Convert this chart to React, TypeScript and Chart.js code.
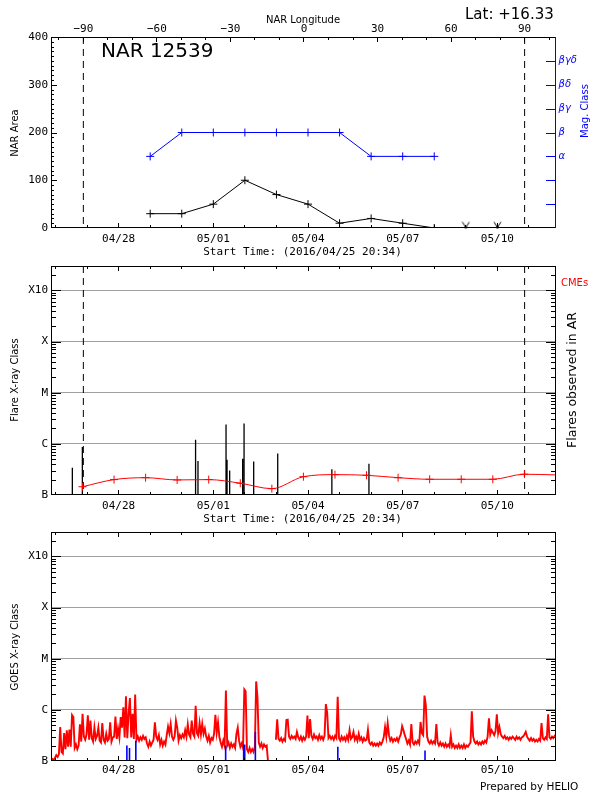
import React, { useEffect, useRef } from "react";
import { Chart, registerables } from "chart.js";

Chart.register(...registerables);

// ---------------- data ----------------
const YEAR = 2016;
const START = "04/25 20:34";
const SPAN_DAYS = 16;
const startLabel = "Start Time: (2016/04/25 20:34)";
const narNumber = "12539";
const latitude = "+16.33";

const dateTickLabels = ["04/28", "05/01", "05/04", "05/07", "05/10"];
const lonTicks = [-90, -60, -30, 0, 30, 60, 90];
const lonRange = [-103.2, 102.8];
const limbLon = [-90, 90];

const areaTicks = [0, 100, 200, 300, 400];
const narDates = ["04/29", "04/30", "05/01", "05/02", "05/03", "05/04", "05/05", "05/06", "05/07", "05/08"];
const narArea = [30, 30, 50, 100, 70, 50, 10, 20, 10, 0];
const narNoDataDates = ["05/09", "05/10"];
const magClassLabels = ["", "", "", "α", "β", "βγ", "βδ", "βγδ", ""];
const magClass = ["α", "β", "β", "β", "β", "β", "β", "α", "α", "α"];

const classTickLabels = ["B", "C", "M", "X", "X10"];
const classTop = "X30";

const flareTimes = [
  "04/26 12:48", "04/26 20:25", "04/30 10:30", "04/30 12:20", "05/01 09:40", "05/01 10:26",
  "05/01 12:25", "05/01 22:19", "05/01 23:22", "05/02 06:41", "05/03 00:58", "05/04 18:08", "05/05 22:20",
];
const flareClasses = ["B3.4", "B8.7", "C1.2", "B4.6", "C2.4", "B4.9", "B3.0", "B5.1", "C2.5", "B4.5", "B6.5", "B3.2", "B4.1"];

const bgTimes = [
  "04/26 20:30", "04/27 20:30", "04/28 20:30", "04/29 20:30", "04/30 20:30", "05/01 20:30", "05/02 20:30",
  "05/03 20:30", "05/04 20:30", "05/05 20:30", "05/06 20:30", "05/07 20:30", "05/08 20:30", "05/09 20:30",
  "05/10 20:30", "05/11 20:34",
];
// background level in units of B1.0 (1e-7 W m^-2)
const bgLevelB = [1.45, 2.0, 2.18, 1.97, 2.0, 1.7, 1.33, 2.28, 2.5, 2.43, 2.18, 2.03, 2.03, 2.03, 2.55, 2.47];

// GOES 1-8 A flux, hourly from the start time, in units of B1.0 (1e-7 W m^-2)
const goesStepHours = 1;
const goesFluxB: (number | null)[] = [
  1.05, 1.1, 1.05, 1.15, 1.3, 1.2, 1.35, 4.6, 1.5, 1.4, 3.5, 1.7, 4.0, 1.9, 4.1, 1.9, 7.9, 7.2, 1.8, 2.1, 1.7, 2.0, 5.2, 2.4,
  8.4, 3.0, 2.6, 3.3, 7.8, 2.6, 6.2, 2.8, 2.4, 4.5, 2.7, 3.1, 4.5, 2.5, 2.3, 5.5, 2.6, 2.3, 3.4, 2.5, 2.7, 5.7, 2.4, 2.9,
  3.0, 7.4, 2.7, 4.3, 2.9, 7.2, 4.5, 11.2, 2.9, 18.5, 2.8, 8.3, 17.0, 2.9, 8.4, 2.7, 20.0, 2.6, 3.0, 2.5, 2.9, 2.6, 3.1, 2.7,
  2.9, 2.2, 1.9, 2.4, 2.0, 2.3, 2.6, 5.7, 3.0, 2.6, 3.2, 2.1, 2.6, 2.0, 2.4, 2.1, 3.2, 4.7, 3.5, 5.3, 3.0, 2.6, 3.0, 6.2,
  4.5, 2.5, 3.2, 2.8, 3.3, 2.9, 4.0, 3.0, 5.2, 3.3, 2.9, 6.2, 3.4, 3.0, 12.0, 3.5, 3.1, 5.5, 3.3, 5.3, 3.4, 4.3, 3.0, 2.5,
  3.1, 2.3, 2.8, 2.6, 3.4, 8.0, 3.6, 5.7, 3.0, 2.3, 1.9, 2.5, 2.0, 24.0, 2.0, 2.3, 1.8, 2.2, 1.9, 2.1, 1.8, 3.4, 4.5, 2.5,
  1.9, 2.2, 1.8, 25.0, 23.0, 1.7, 1.5, 1.8, 1.5, 1.7, 1.5, 1.9, 36.0, 17.5, 2.3, 1.9, 2.2, 1.8, 2.1, 1.9, 2.0, 1.0, null, null,
  null, null, null, 2.6, 6.5, 2.7, 2.5, 2.8, 2.4, 2.7, 2.5, 6.3, 6.4, 3.0, 2.7, 3.1, 2.8, 3.0, 2.7, 3.7, 2.9, 2.6, 3.0, 2.5,
  2.9, 2.6, 3.0, 7.7, 2.8, 6.6, 3.1, 2.7, 3.3, 2.8, 3.0, 2.6, 3.2, 2.7, 3.0, 2.6, 3.1, 13.0, 8.8, 2.8, 3.1, 2.7, 3.0, 2.6,
  3.1, 2.8, 18.0, 2.8, 2.5, 3.0, 2.6, 2.9, 2.5, 3.1, 2.6, 4.0, 2.7, 2.9, 3.7, 2.6, 3.0, 2.5, 3.4, 2.6, 2.9, 2.4, 2.8, 2.5,
  2.6, 4.1, 2.3, 2.1, 2.3, 2.0, 2.2, 2.0, 2.2, 2.0, 2.3, 2.1, 2.4, 2.9, 4.6, 3.0, 5.5, 3.2, 2.5, 2.8, 2.4, 2.7, 2.5, 2.8,
  2.4, 2.9, 3.3, 4.8, 4.0, 3.2, 2.7, 2.2, 2.5, 2.1, 5.3, 2.3, 2.1, 2.4, 2.2, 2.5, 2.2, 5.8, 3.5, 3.2, 19.0, 12.5, 3.0, 2.4,
  2.2, 2.5, 2.2, 2.4, 2.2, 5.3, 2.3, 2.0, 2.3, 2.0, 2.2, 1.9, 2.2, 1.9, 2.1, 1.9, 3.2, 1.9, 2.1, 1.8, 2.0, 1.8, 2.1, 1.8,
  2.0, 1.8, 2.1, 1.8, 2.0, 1.9, 2.1, 2.3, 9.4, 3.0, 2.4, 2.2, 2.4, 2.1, 2.3, 2.1, 2.4, 2.2, 2.5, 2.3, 3.0, 6.8, 3.3, 4.0,
  3.6, 3.2, 3.8, 8.2, 3.5, 4.6, 3.3, 3.0, 2.8, 3.1, 2.7, 2.9, 2.6, 2.9, 2.7, 3.0, 2.8, 2.6, 3.0, 2.7, 2.9, 2.6, 2.9, 3.0,
  3.3, 3.7, 3.0, 2.7, 2.5, 2.8, 2.5, 2.7, 2.4, 2.6, 2.4, 2.7, 2.5, 5.5, 2.8, 2.6, 2.9, 2.7, 8.2, 2.9, 2.7, 3.0, 2.8, 3.1,
  2.9,
];

const eventTimes = ["04/28 06:16", "04/28 08:16", "04/28 13:04", "05/01 09:22", "05/01 23:04", "05/01 23:52", "05/02 07:58", "05/04 22:40", "05/07 16:58"];
const eventClasses = ["B2.0", "B1.8", "B2.5", "B2.0", "B2.1", "B2.1", "B3.7", "B1.9", "B1.6"];

// ---------------- helpers ----------------
const BLUE = "#0000ff";
const RED = "#ff0000";
const GRID = "#a0a0a0";
const FONT_MONO = '"DejaVu Sans Mono", monospace';
const FONT_SANS = '"DejaVu Sans", sans-serif';

function ms(s: string): number {
  const [d, t] = s.split(" ");
  const [mo, da] = d.split("/").map(Number);
  const [h, mi] = (t || "00:00").split(":").map(Number);
  return Date.UTC(YEAR, mo - 1, da, h, mi);
}
const t0 = ms(START);
const dayOf = (s: string) => (ms(s) - t0) / 86400000;
const CLASS_BASE: Record<string, number> = { A: 1e-8, B: 1e-7, C: 1e-6, M: 1e-5, X: 1e-4 };
const classFlux = (c: string) => CLASS_BASE[c[0]] * (c.length > 1 ? parseFloat(c.slice(1)) : 1);
const LOG_MIN = classFlux("B");
const LOG_MAX = classFlux(classTop);

const dateMajor = dateTickLabels.map(dayOf);
function midnights(): number[] {
  const out: number[] = [];
  const sd = new Date(t0);
  for (let d = 0; d <= SPAN_DAYS + 1; d++) {
    const v = (Date.UTC(YEAR, sd.getUTCMonth(), sd.getUTCDate() + d) - t0) / 86400000;
    if (v >= 0 && v <= SPAN_DAYS) out.push(v);
  }
  return out;
}
const dateMinor = midnights().filter((v) => !dateMajor.some((m) => Math.abs(m - v) < 1e-6));
const lonMinor: number[] = [];
for (let v = -100; v <= 100; v += 10) if (v % 30 !== 0) lonMinor.push(v);
const areaMinor: number[] = [];
for (let v = 0; v <= 400; v += 10) if (v % 100 !== 0) areaMinor.push(v);
const logMajor = classTickLabels.map(classFlux);
const logMinor: number[] = [];
for (let e = -8; e <= -2; e++)
  for (let m = 2; m <= 9; m++) {
    const v = m * Math.pow(10, e);
    if (v > LOG_MIN * 1.0001 && v < LOG_MAX * 1.0001) logMinor.push(v);
  }

const fmtLon = (v: number) => (v < 0 ? "\u2212" + Math.abs(v) : String(v));

function vertBars(xs: number[], tops: number[], base: number) {
  const out: any[] = [];
  xs.forEach((x, i) => {
    out.push({ x, y: base }, { x, y: tops[i] }, { x, y: null });
  });
  return out;
}

type TickSpec = { scale: string; side: "left" | "right" | "top" | "bottom"; values: number[]; len: number; color?: string };
type Txt = { text: string; x: number; y: number; size: number; family?: string; color?: string; align?: CanvasTextAlign; rotate?: boolean; style?: string };
type Frame = { left: string; right: string; top: string; bottom: string };

function overlayPlugin(panelTop: number, ticks: TickSpec[], frame: Frame, texts: Txt[]) {
  return {
    id: "idlOverlay",
    afterDraw(chart: any) {
      const ctx: CanvasRenderingContext2D = chart.ctx;
      const a = chart.chartArea;
      const L = Math.round(a.left), R = Math.round(a.right), T = Math.round(a.top), B = Math.round(a.bottom);
      ctx.save();
      ctx.setLineDash([]);
      ctx.globalAlpha = 1;
      for (const t of ticks) {
        const s = chart.scales[t.scale];
        if (!s) continue;
        ctx.fillStyle = t.color || "#000000";
        for (const v of t.values) {
          const raw = s.getPixelForValue(v);
          if (!isFinite(raw)) continue;
          if (t.side === "left" || t.side === "right") {
            if (raw < T - 1 || raw > B + 1) continue;
            const p = Math.min(Math.max(Math.round(raw), T), B - 1);
            if (t.side === "left") ctx.fillRect(L, p, t.len, 1);
            else ctx.fillRect(R - t.len, p, t.len, 1);
          } else {
            if (raw < L - 1 || raw > R + 1) continue;
            const p = Math.min(Math.max(Math.floor(raw), L), R - 1);
            if (t.side === "bottom") ctx.fillRect(p, B - t.len, 1, t.len);
            else ctx.fillRect(p, T, 1, t.len);
          }
        }
      }
      ctx.fillStyle = frame.top;
      ctx.fillRect(L, T, R - L, 1);
      ctx.fillStyle = frame.bottom;
      ctx.fillRect(L, B - 1, R - L, 1);
      ctx.fillStyle = frame.left;
      ctx.fillRect(L, T, 1, B - T);
      ctx.fillStyle = frame.right;
      ctx.fillRect(R - 1, T, 1, B - T);
      for (const t of texts) {
        ctx.save();
        ctx.font = `${t.style ? t.style + " " : ""}${t.size}px ${t.family || FONT_SANS}`;
        ctx.fillStyle = t.color || "#000";
        ctx.textAlign = t.align || "center";
        ctx.textBaseline = "middle";
        ctx.translate(t.x, t.y - panelTop);
        if (t.rotate) ctx.rotate(-Math.PI / 2);
        ctx.fillText(t.text, 0, 0);
        ctx.restore();
      }
      ctx.restore();
    },
  };
}

function zeroPad(s: any) {
  s.paddingLeft = 0;
  s.paddingRight = 0;
  s.paddingTop = 0;
  s.paddingBottom = 0;
}

function dateScale(height: number, pad: number) {
  return {
    type: "linear",
    position: "bottom",
    min: 0,
    max: SPAN_DAYS,
    bounds: "data",
    afterBuildTicks: (s: any) => {
      s.ticks = dateMajor.map((v) => ({ value: v }));
    },
    afterFit: (s: any) => {
      s.height = height;
      zeroPad(s);
    },
    grid: { display: false, drawTicks: false },
    border: { display: false },
    ticks: {
      autoSkip: false,
      maxRotation: 0,
      minRotation: 0,
      padding: pad,
      color: "#000",
      font: { family: FONT_MONO, size: 11 },
      callback: (_v: any, i: number) => dateTickLabels[i],
    },
  };
}

function classScale() {
  return {
    type: "logarithmic",
    position: "left",
    min: LOG_MIN,
    max: LOG_MAX,
    bounds: "data",
    afterBuildTicks: (s: any) => {
      s.ticks = logMajor.map((v) => ({ value: v }));
    },
    afterFit: (s: any) => {
      s.width = 51;
      zeroPad(s);
    },
    grid: {
      display: true,
      drawTicks: false,
      lineWidth: 1,
      color: (c: any) => (c.tick && c.tick.value > LOG_MIN * 1.5 ? GRID : "rgba(0,0,0,0)"),
    },
    border: { display: false },
    ticks: {
      autoSkip: false,
      padding: 3,
      color: "#000",
      font: { family: FONT_MONO, size: 11 },
      callback: (_v: any, i: number) => classTickLabels[i],
    },
  };
}

const hiddenLon = {
  type: "linear",
  position: "top",
  display: false,
  min: lonRange[0],
  max: lonRange[1],
  bounds: "data",
};

function limbData(yTop: number, yBottom: number) {
  const out: any[] = [];
  limbLon.forEach((l) => out.push({ x: l, y: yTop }, { x: l, y: yBottom }, { x: l, y: null }));
  return out;
}

const baseOptions = (padding: any) => ({
  responsive: false,
  maintainAspectRatio: false,
  animation: false,
  devicePixelRatio: 1,
  events: [],
  layout: { padding },
  plugins: { legend: { display: false }, tooltip: { enabled: false }, title: { display: false } },
});

function makeVMarker() {
  const c = document.createElement("canvas");
  c.width = 9;
  c.height = 15;
  const g = c.getContext("2d")!;
  g.strokeStyle = "#000";
  g.lineWidth = 1;
  g.beginPath();
  g.moveTo(1, 1.5);
  g.lineTo(4.5, 7);
  g.lineTo(8, 1.5);
  g.stroke();
  g.fillStyle = "#000";
  g.fillRect(3.5, 6, 2, 2);
  return c;
}

// ---------------- panels ----------------
const P1 = { top: 0, height: 258 };
const P2 = { top: 258, height: 266 };
const P3 = { top: 524, height: 276 };

function buildTop(canvas: HTMLCanvasElement) {
  const xs = narDates.map(dayOf);
  const areaMax = areaTicks[areaTicks.length - 1];
  const vImg = makeVMarker();
  const ticks: TickSpec[] = [
    { scale: "y", side: "left", values: areaTicks, len: 6 },
    { scale: "y", side: "left", values: areaMinor, len: 3 },
    { scale: "mag", side: "right", values: [1, 2, 3, 4, 5, 6, 7], len: 10, color: BLUE },
    { scale: "x", side: "bottom", values: dateMajor, len: 5 },
    { scale: "x", side: "bottom", values: dateMinor, len: 3 },
    { scale: "lon", side: "top", values: lonTicks, len: 5 },
    { scale: "lon", side: "top", values: lonMinor, len: 3 },
  ];
  const texts: Txt[] = [
    { text: "NAR Longitude", x: 303, y: 20, size: 10 },
    { text: "Lat: " + latitude, x: 465, y: 15.5, size: 15, align: "left" },
    { text: "NAR " + narNumber, x: 101, y: 52, size: 20, align: "left" },
    { text: "NAR Area", x: 15.5, y: 133, size: 10, rotate: true },
    { text: "Mag. Class", x: 585.5, y: 111, size: 10, rotate: true, color: BLUE },
    { text: startLabel, x: 302.5, y: 252.5, size: 11, family: FONT_MONO },
  ];
  return new Chart(canvas, {
    type: "line",
    data: {
      datasets: [
        {
          label: "Mag. Class",
          yAxisID: "mag",
          xAxisID: "x",
          data: xs.map((x, i) => ({ x, y: magClassLabels.indexOf(magClass[i]) })),
          borderColor: BLUE,
          borderWidth: 1,
          pointStyle: "cross",
          pointRadius: 4,
          pointBorderColor: BLUE,
          pointBorderWidth: 1,
        },
        {
          label: "NAR Area",
          yAxisID: "y",
          xAxisID: "x",
          data: xs.map((x, i) => ({ x, y: narArea[i] })),
          borderColor: "#000",
          borderWidth: 1,
          pointStyle: "cross",
          pointRadius: 4,
          pointBorderColor: "#000",
          pointBorderWidth: 1,
        },
        {
          label: "no data",
          yAxisID: "y",
          xAxisID: "x",
          data: narNoDataDates.map((d) => ({ x: dayOf(d), y: 0 })),
          showLine: false,
          pointStyle: vImg,
          pointRadius: 5,
          clip: false,
        },
        {
          label: "limb",
          yAxisID: "y",
          xAxisID: "lon",
          data: limbData(areaMax, 0),
          borderColor: "#000",
          borderWidth: 1,
          borderDash: [7, 5],
          pointRadius: 0,
        },
      ],
    } as any,
    options: {
      ...baseOptions({ left: 0, right: 0, top: 0, bottom: 0 }),
      scales: {
        x: dateScale(30, 5),
        lon: {
          type: "linear",
          position: "top",
          min: lonRange[0],
          max: lonRange[1],
          bounds: "data",
          afterBuildTicks: (s: any) => {
            s.ticks = lonTicks.map((v) => ({ value: v }));
          },
          afterFit: (s: any) => {
            s.height = 37;
            zeroPad(s);
          },
          grid: { display: false, drawTicks: false },
          border: { display: false },
          ticks: {
            autoSkip: false,
            maxRotation: 0,
            padding: 1,
            color: "#000",
            font: { family: FONT_MONO, size: 11 },
            callback: (_v: any, i: number) => fmtLon(lonTicks[i]),
          },
        },
        y: {
          type: "linear",
          position: "left",
          min: 0,
          max: areaMax,
          bounds: "data",
          afterBuildTicks: (s: any) => {
            s.ticks = areaTicks.map((v) => ({ value: v }));
          },
          afterFit: (s: any) => {
            s.width = 51;
            zeroPad(s);
          },
          grid: { display: false, drawTicks: false },
          border: { display: false },
          ticks: {
            autoSkip: false,
            padding: 3,
            color: "#000",
            font: { family: FONT_MONO, size: 11 },
            callback: (_v: any, i: number) => String(areaTicks[i]),
          },
        },
        mag: {
          type: "linear",
          position: "right",
          min: 0,
          max: magClassLabels.length - 1,
          bounds: "data",
          afterBuildTicks: (s: any) => {
            s.ticks = magClassLabels.map((l, i) => ({ value: i, l })).filter((t) => t.l !== "").map((t) => ({ value: t.value }));
          },
          afterFit: (s: any) => {
            s.width = 44;
            zeroPad(s);
          },
          grid: { display: false, drawTicks: false },
          border: { display: false },
          ticks: {
            autoSkip: false,
            padding: 2.5,
            color: BLUE,
            font: { family: FONT_SANS, size: 10, style: "italic" },
            callback: (v: any) => magClassLabels[Math.round(v)],
          },
        },
      },
    } as any,
    plugins: [overlayPlugin(P1.top, ticks, { left: "#000", right: BLUE, top: "#000", bottom: "#000" }, texts)],
  });
}

function logTicks(): TickSpec[] {
  return [
    { scale: "y", side: "left", values: logMajor, len: 10 },
    { scale: "y", side: "left", values: logMinor, len: 5 },
    { scale: "y", side: "right", values: logMajor, len: 10 },
    { scale: "y", side: "right", values: logMinor, len: 5 },
    { scale: "x", side: "bottom", values: dateMajor, len: 5 },
    { scale: "x", side: "bottom", values: dateMinor, len: 3 },
    { scale: "x", side: "top", values: dateMajor, len: 5 },
    { scale: "x", side: "top", values: dateMinor, len: 3 },
  ];
}

const blackFrame: Frame = { left: "#000", right: "#000", top: "#000", bottom: "#000" };

function buildFlares(canvas: HTMLCanvasElement) {
  const texts: Txt[] = [
    { text: "Flare X-ray Class", x: 15.5, y: 380, size: 10, rotate: true },
    { text: "Flares observed in AR", x: 572.5, y: 380, size: 12.5, rotate: true },
    { text: "CMEs", x: 561, y: 283, size: 10, align: "left", color: RED },
    { text: startLabel, x: 302.5, y: 519.5, size: 11, family: FONT_MONO },
  ];
  return new Chart(canvas, {
    type: "line",
    data: {
      datasets: [
        {
          label: "background",
          yAxisID: "y",
          xAxisID: "x",
          data: bgTimes.map((t, i) => ({ x: dayOf(t), y: bgLevelB[i] * LOG_MIN })),
          borderColor: RED,
          borderWidth: 1,
          cubicInterpolationMode: "monotone",
          pointStyle: "cross",
          pointRadius: bgTimes.map((_, i) => (i === bgTimes.length - 1 ? 0 : 4)),
          pointBorderColor: RED,
          pointBorderWidth: 1,
        },
        {
          label: "flares",
          yAxisID: "y",
          xAxisID: "x",
          data: vertBars(flareTimes.map(dayOf), flareClasses.map(classFlux), LOG_MIN),
          borderColor: "#000",
          borderWidth: 1.3,
          pointRadius: 0,
        },
        {
          label: "limb",
          yAxisID: "y",
          xAxisID: "lon",
          data: limbData(LOG_MAX, LOG_MIN),
          borderColor: "#000",
          borderWidth: 1,
          borderDash: [7, 5],
          pointRadius: 0,
        },
      ],
    } as any,
    options: {
      ...baseOptions({ left: 0, right: 44, top: 8, bottom: 0 }),
      scales: {
        x: dateScale(29, 5),
        lon: hiddenLon,
        y: classScale(),
      },
    } as any,
    plugins: [overlayPlugin(P2.top, logTicks(), blackFrame, texts)],
  });
}

function buildGoes(canvas: HTMLCanvasElement) {
  const texts: Txt[] = [
    { text: "GOES X-ray Class", x: 15.5, y: 647, size: 10, rotate: true },
    { text: "Prepared by HELIO", x: 480, y: 787, size: 10.5, align: "left" },
  ];
  return new Chart(canvas, {
    type: "line",
    data: {
      datasets: [
        {
          label: "events",
          yAxisID: "y",
          xAxisID: "x",
          data: vertBars(eventTimes.map(dayOf), eventClasses.map(classFlux), LOG_MIN),
          borderColor: BLUE,
          borderWidth: 1.6,
          pointRadius: 0,
        },
        {
          label: "GOES",
          yAxisID: "y",
          xAxisID: "x",
          data: goesFluxB.map((v, i) => ({ x: (i * goesStepHours) / 24, y: v === null ? null : v * LOG_MIN })),
          borderColor: RED,
          borderWidth: 1.9,
          pointRadius: 0,
          spanGaps: false,
        },
      ],
    } as any,
    options: {
      ...baseOptions({ left: 0, right: 44, top: 8, bottom: 0 }),
      scales: {
        x: dateScale(39, 3),
        y: classScale(),
      },
    } as any,
    plugins: [overlayPlugin(P3.top, logTicks(), blackFrame, texts)],
  });
}

export default function App() {
  const r1 = useRef<HTMLCanvasElement>(null);
  const r2 = useRef<HTMLCanvasElement>(null);
  const r3 = useRef<HTMLCanvasElement>(null);
  useEffect(() => {
    const charts = [buildTop(r1.current!), buildFlares(r2.current!), buildGoes(r3.current!)];
    return () => charts.forEach((c) => c.destroy());
  }, []);
  const cs = (p: { top: number; height: number }) =>
    ({ position: "absolute", left: 0, top: p.top, width: 600, height: p.height, display: "block" } as React.CSSProperties);
  return (
    <div style={{ position: "absolute", left: 0, top: 0, width: 600, height: 800, background: "#fff" }}>
      <canvas ref={r1} width={600} height={P1.height} style={cs(P1)} />
      <canvas ref={r2} width={600} height={P2.height} style={cs(P2)} />
      <canvas ref={r3} width={600} height={P3.height} style={cs(P3)} />
    </div>
  );
}
